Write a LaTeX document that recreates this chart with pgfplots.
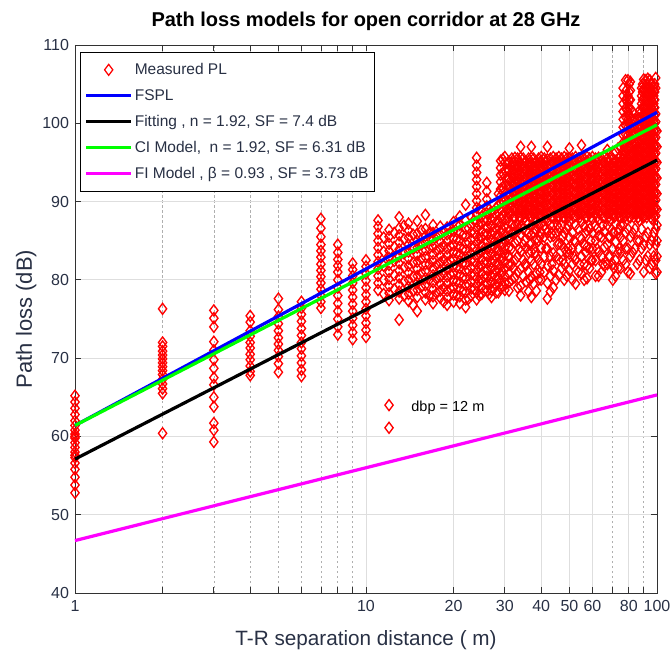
\documentclass[border=0pt]{standalone}
\usepackage{pgfplots}
\pgfplotsset{compat=1.18}
\usepackage{pgfplotstable}
\usepackage{fontspec}
\setmainfont{Liberation Sans}
\definecolor{txt}{RGB}{40,48,68}
\definecolor{axgray}{RGB}{50,50,50}
\definecolor{mred}{RGB}{255,0,0}
\definecolor{mblue}{RGB}{0,0,255}
\definecolor{mgreen}{RGB}{0,255,0}
\definecolor{mmag}{RGB}{255,0,255}

\pgfplotstableread{
x y1 y2 y3 y4 y5 y6 y7 y8 y9 y10
1 52.8 53.8 54.8 55.8 56.6 57.3 58.0 58.6 59.2 59.8
1 60.3 60.8 61.4 62.0 62.8 63.6 64.4 65.2 57.6 60.0
2 60.4 65.5 66.1 66.7 67.3 67.9 68.4 68.9 69.4 69.9
2 70.4 70.9 71.5 72.0 76.3 nan nan nan nan nan
3 59.3 60.8 61.7 63.8 65.0 66.6 67.5 68.7 69.8 71.0
3 72.1 74.0 75.1 76.1 nan nan nan nan nan nan
4 67.8 68.3 69.0 69.8 70.5 71.3 72.0 72.8 73.5 74.6
4 75.4 nan nan nan nan nan nan nan nan nan
5 68.2 69.3 70.2 71.0 71.8 72.6 73.5 74.4 75.3 76.2
5 77.6 nan nan nan nan nan nan nan nan nan
6 67.7 68.5 69.4 70.3 71.2 72.0 72.9 73.8 74.7 75.6
6 76.4 77.2 nan nan nan nan nan nan nan nan
7 76.4 77.2 78.0 78.8 79.6 80.4 81.2 82.0 82.9 83.7
7 84.5 85.5 86.6 87.8 nan nan nan nan nan nan
8 73.0 74.0 75.0 76.0 77.0 78.0 79.0 80.0 81.0 81.8
8 82.6 83.5 84.5 nan nan nan nan nan nan nan
9 72.4 73.3 74.2 75.1 76.0 76.9 77.8 78.7 79.6 80.5
9 81.3 82.1 nan nan nan nan nan nan nan nan
10 72.7 73.6 74.5 75.4 76.3 77.2 78.1 79.0 79.9 80.8
10 81.7 82.5 nan nan nan nan nan nan nan nan
11 78.7 79.6 80.5 81.4 82.3 83.2 84.1 85.0 85.9 86.8
11 87.6 nan nan nan nan nan nan nan nan nan
11.5 78.2 80.0 81.8 83.6 85.4 nan nan nan nan nan
12 77.4 78.3 79.2 80.1 81.0 81.9 82.8 83.7 84.6 85.5
12 86.4 61.1 64.0 nan nan nan nan nan nan nan
12.5 78.8 80.6 82.4 84.2 86.0 nan nan nan nan nan
13 74.9 77.6 78.5 79.4 80.3 81.2 82.1 83.0 83.9 84.8
13 85.7 86.6 88.0 nan nan nan nan nan nan nan
13.5 78.0 79.8 81.6 83.4 85.2 86.9 nan nan nan nan
14 77.3 78.2 79.1 80.0 80.9 81.8 82.7 83.6 84.5 85.4
14 86.3 87.2 nan nan nan nan nan nan nan nan
14.5 76.8 78.6 80.4 82.2 84.0 85.8 nan nan nan nan
15 76.0 77.8 78.7 79.6 80.5 81.4 82.3 83.2 84.1 85.0
15 85.9 87.5 nan nan nan nan nan nan nan nan
15.5 79.1 80.9 82.7 84.5 86.3 nan nan nan nan nan
16 77.5 78.4 79.3 80.2 81.1 82.0 82.9 83.8 84.7 85.6
16 86.5 88.3 nan nan nan nan nan nan nan nan
16.5 78.0 80.0 82.0 84.0 86.0 nan nan nan nan nan
17 77.0 77.9 78.8 79.7 80.6 81.5 82.4 83.3 84.2 85.1
17 86.0 87.0 nan nan nan nan nan nan nan nan
17.5 78.3 80.1 81.9 83.7 85.5 nan nan nan nan nan
18 77.7 78.6 79.5 80.4 81.3 82.2 83.1 84.0 84.9 85.8
18 86.8 nan nan nan nan nan nan nan nan nan
18.5 77.2 79.0 80.8 82.6 84.4 86.2 nan nan nan nan
19 76.8 77.7 78.6 79.5 80.4 81.3 82.2 83.1 84.0 84.9
19 85.8 86.7 nan nan nan nan nan nan nan nan
19.5 78.9 80.7 82.5 84.3 86.1 nan nan nan nan nan
20 77.2 78.1 79.0 79.9 80.8 81.7 82.6 83.5 84.4 85.3
20 86.2 87.4 nan nan nan nan nan nan nan nan
20.5 78.0 79.8 81.6 83.4 85.2 87.0 nan nan nan nan
21 77.0 77.9 78.8 79.7 80.6 81.5 82.4 83.3 84.2 85.1
21 86.0 87.0 88.1 nan nan nan nan nan nan nan
21.5 78.5 80.3 82.1 83.9 85.7 nan nan nan nan nan
22 76.5 77.5 78.4 79.3 80.2 81.1 82.0 82.9 83.8 84.7
22 85.6 86.5 87.6 89.6 nan nan nan nan nan nan
22.5 77.6 79.4 81.2 83.0 84.8 86.6 nan nan nan nan
23 78.0 78.9 79.8 80.7 81.6 82.5 83.4 84.3 85.2 86.1
23 87.0 88.0 nan nan nan nan nan nan nan nan
23.5 78.8 80.6 82.4 84.2 86.0 87.6 nan nan nan nan
24 77.5 78.4 79.3 80.2 81.1 82.0 82.9 83.8 84.7 85.6
24 86.5 87.4 88.3 89.2 90.1 91.0 91.9 92.8 93.7 94.6
24 95.6 nan nan nan nan nan nan nan nan nan
24.5 78.0 79.8 81.6 83.4 85.2 87.0 89.0 nan nan nan
25 78.2 79.1 80.0 80.9 81.8 82.7 83.6 84.5 85.4 86.3
25 87.2 88.1 nan nan nan nan nan nan nan nan
25.5 78.6 80.4 82.2 84.0 85.8 87.6 nan nan nan nan
26 78.6 79.5 80.4 81.3 82.2 83.1 84.0 84.9 85.8 86.7
26 87.6 88.5 89.4 90.3 91.3 92.4 nan nan nan nan
26.5 78.2 80.0 81.8 83.6 85.4 87.2 89.0 nan nan nan
27 77.8 78.7 79.6 80.5 81.4 82.3 83.2 84.1 85.0 85.9
27 86.8 87.7 88.6 nan nan nan nan nan nan nan
27.5 78.9 80.7 82.5 84.3 86.1 87.9 nan nan nan nan
28 78.4 79.3 80.2 81.1 82.0 82.9 83.8 84.7 85.6 86.5
28 87.4 88.3 89.2 nan nan nan nan nan nan nan
28.5 78.4 80.2 82.0 83.8 85.6 87.4 89.5 91.0 nan nan
29 79.0 79.9 80.8 81.7 82.6 83.5 84.4 85.3 86.2 87.1
29 88.0 88.9 89.8 90.7 91.6 92.5 93.4 94.3 95.2 nan
29.5 79.2 81.0 82.8 84.6 86.4 88.2 90.0 91.8 93.6 95.4
30 78.7 79.6 80.5 81.4 82.3 83.2 84.1 85.0 85.9 86.8
30 87.7 88.6 89.5 90.4 91.3 92.2 93.1 94.0 95.0 95.7
30.8 88.0 89.0 90.0 91.0 92.0 93.0 94.0 95.0 83.0 85.5
31 78.6 79.7 80.8 81.9 83.0 84.1 85.2 86.3 87.4 88.5
31 89.6 90.7 91.8 92.9 94.0 95.1 nan nan nan nan
31.7 88.5 89.5 90.5 91.5 92.5 93.5 94.5 95.5 80.0 82.0
31.7 84.0 86.0 87.0 nan nan nan nan nan nan nan
32.1 88.0 89.0 90.0 91.0 92.0 93.0 94.0 95.0 81.5 86.0
32.5 80.3 82.5 84.7 86.9 88.0 89.1 90.2 91.3 92.4 93.5
32.5 94.6 95.6 nan nan nan nan nan nan nan nan
33.2 88.5 89.5 90.5 91.5 92.5 93.5 94.5 95.5 79.0 81.0
33.2 83.0 85.0 87.0 nan nan nan nan nan nan nan
33.6 88.0 89.0 90.0 91.0 92.0 93.0 94.0 95.0 84.0 86.5
34 78.0 79.2 81.4 83.6 85.8 86.9 88.0 89.1 90.2 91.3
34 92.4 93.5 94.6 95.6 97.0 nan nan nan nan nan
34.7 88.5 89.5 90.5 91.5 92.5 93.5 94.5 95.5 80.5 82.5
34.7 84.5 86.5 nan nan nan nan nan nan nan nan
35.1 88.0 89.0 90.0 91.0 92.0 93.0 94.0 95.0 82.0 85.0
35.5 79.8 81.9 84.1 86.3 87.4 88.5 89.6 90.7 91.8 92.9
35.5 94.0 95.1 nan nan nan nan nan nan nan nan
36.2 88.5 89.5 90.5 91.5 92.5 93.5 94.5 95.5 78.5 81.0
36.2 83.5 86.0 87.2 nan nan nan nan nan nan nan
36.6 88.0 89.0 90.0 91.0 92.0 93.0 94.0 95.0 80.0 84.5
37 77.8 80.4 82.5 83.6 84.7 85.8 86.9 88.0 89.1 90.2
37 91.3 92.4 93.5 94.6 95.6 97.0 nan nan nan nan
37.7 88.5 89.5 90.5 91.5 92.5 93.5 94.5 95.5 79.5 82.0
37.7 84.0 86.0 nan nan nan nan nan nan nan nan
38.1 88.0 89.0 90.0 91.0 92.0 93.0 94.0 95.0 83.5 86.5
38.5 78.6 80.8 83.0 85.2 86.3 87.4 88.5 89.6 90.7 91.8
38.5 92.9 94.0 95.1 nan nan nan nan nan nan nan
39.2 88.5 89.5 90.5 91.5 92.5 93.5 94.5 95.5 80.0 82.5
39.2 85.0 87.0 nan nan nan nan nan nan nan nan
39.6 88.0 89.0 90.0 91.0 92.0 93.0 94.0 95.0 81.0 85.5
40 80.0 82.0 84.1 86.0 87.2 88.2 89.2 90.2 91.2 92.2
40 93.2 94.2 95.2 95.7 nan nan nan nan nan nan
41 88.5 89.5 90.5 91.5 92.5 93.5 94.5 95.5 81.0 83.0
41 85.5 87.0 nan nan nan nan nan nan nan nan
41.5 88.0 89.0 90.0 91.0 92.0 93.0 94.0 95.0 84.0 86.5
42 77.6 79.6 81.8 84.0 86.0 87.4 88.4 89.4 90.4 91.4
42 92.4 93.4 94.4 95.4 97.0 nan nan nan nan nan
43 88.5 89.5 90.5 91.5 92.5 93.5 94.5 95.5 78.5 80.5
43 83.0 85.5 87.0 nan nan nan nan nan nan nan
43.5 88.0 89.0 90.0 91.0 92.0 93.0 94.0 95.0 82.0 86.0
44 79.0 81.2 83.4 85.6 87.0 88.0 89.0 90.0 91.0 92.0
44 93.0 94.0 95.0 95.7 nan nan nan nan nan nan
45 88.5 89.5 90.5 91.5 92.5 93.5 94.5 95.5 80.0 83.0
45 86.0 nan nan nan nan nan nan nan nan nan
45.5 88.0 89.0 90.0 91.0 92.0 93.0 94.0 95.0 84.5 87.0
46 80.6 82.6 84.6 86.6 88.0 89.0 90.0 91.0 92.0 93.0
46 94.0 95.0 95.7 nan nan nan nan nan nan nan
47 88.5 89.5 90.5 91.5 92.5 93.5 94.5 95.5 81.5 84.5
47 87.0 nan nan nan nan nan nan nan nan nan
47.5 88.0 89.0 90.0 91.0 92.0 93.0 94.0 95.0 82.5 85.5
48 80.0 82.0 84.0 86.0 88.0 89.0 90.0 91.0 92.0 93.0
48 94.0 95.0 95.7 nan nan nan nan nan nan nan
49 88.5 89.5 90.5 91.5 92.5 93.5 94.5 95.5 80.5 83.5
49 86.5 nan nan nan nan nan nan nan nan nan
49.5 88.0 89.0 90.0 91.0 92.0 93.0 94.0 95.0 84.0 87.0
50 81.2 83.3 85.4 87.5 88.5 89.5 90.5 91.5 92.5 93.5
50 94.5 95.5 96.8 nan nan nan nan nan nan nan
51.2 88.5 89.5 90.5 91.5 92.5 93.5 94.5 95.5 80.0 82.0
51.2 84.0 86.0 nan nan nan nan nan nan nan nan
51.8 88.0 89.0 90.0 91.0 92.0 93.0 94.0 95.0 83.0 85.0
52.5 79.5 82.5 84.8 87.0 88.2 89.2 90.2 91.2 92.2 93.2
52.5 94.2 95.2 95.7 nan nan nan nan nan nan nan
53.7 88.5 89.5 90.5 91.5 92.5 93.5 94.5 95.5 81.0 84.0
53.7 86.5 nan nan nan nan nan nan nan nan nan
54.3 88.0 89.0 90.0 91.0 92.0 93.0 94.0 95.0 82.0 85.5
55 80.8 83.0 85.2 87.4 88.4 89.4 90.4 91.4 92.4 93.4
55 94.4 95.4 97.2 nan nan nan nan nan nan nan
56.2 88.5 89.5 90.5 91.5 92.5 93.5 94.5 95.5 80.0 82.0
56.2 84.5 86.8 nan nan nan nan nan nan nan nan
56.8 88.0 89.0 90.0 91.0 92.0 93.0 94.0 95.0 83.5 86.0
57.5 80.2 81.8 84.2 86.3 88.0 89.0 90.0 91.0 92.0 93.0
57.5 94.0 95.0 95.7 nan nan nan nan nan nan nan
58.7 88.5 89.5 90.5 91.5 92.5 93.5 94.5 95.5 81.5 84.0
58.7 86.5 nan nan nan nan nan nan nan nan nan
59.3 88.0 89.0 90.0 91.0 92.0 93.0 94.0 95.0 82.5 85.0
60 82.5 84.0 86.0 87.8 88.8 89.8 90.8 91.8 92.8 93.8
60 94.8 95.7 nan nan nan nan nan nan nan nan
61.5 88.5 89.5 90.5 91.5 92.5 93.5 94.5 95.5 80.5 82.5
61.5 85.0 87.0 nan nan nan nan nan nan nan nan
62.2 88.0 89.0 90.0 91.0 92.0 93.0 94.0 95.0 84.0 86.5
63 80.5 83.5 85.6 87.6 88.6 89.6 90.6 91.6 92.6 93.6
63 94.6 95.6 nan nan nan nan nan nan nan nan
64.5 88.5 89.5 90.5 91.5 92.5 93.5 94.5 95.5 81.0 83.0
64.5 85.5 nan nan nan nan nan nan nan nan nan
65.2 88.0 89.0 90.0 91.0 92.0 93.0 94.0 95.0 82.0 87.0
66 81.8 84.2 86.2 88.0 89.0 90.0 91.0 92.0 93.0 94.0
66 95.0 95.7 nan nan nan nan nan nan nan nan
67.5 88.5 89.5 90.5 91.5 92.5 93.5 94.5 95.5 82.0 84.5
67.5 87.0 96.6 nan nan nan nan nan nan nan nan
68.2 88.0 89.0 90.0 91.0 92.0 93.0 94.0 95.0 83.0 85.5
69 83.0 85.5 87.5 88.5 89.5 90.5 91.5 92.5 93.5 94.5
69 95.5 nan nan nan nan nan nan nan nan nan
70.5 88.5 89.5 90.5 91.5 92.5 93.5 94.5 95.5 80.0 82.0
70.5 84.0 86.0 nan nan nan nan nan nan nan nan
71.2 88.0 89.0 90.0 91.0 92.0 93.0 94.0 95.0 81.5 86.0
72 80.5 82.5 84.8 87.2 88.2 89.2 90.2 91.2 92.2 93.2
72 94.2 95.2 96.3 nan nan nan nan nan nan nan
73.5 88.5 89.5 90.5 91.5 92.5 93.5 94.5 95.5 81.5 83.5
73.5 86.0 96.8 nan nan nan nan nan nan nan nan
74.2 88.0 89.0 90.0 91.0 92.0 93.0 94.0 95.0 84.0 86.5
75 81.5 83.5 85.5 87.0 88.0 89.0 90.0 91.0 92.0 93.0
75 94.0 95.0 95.8 97.0 nan nan nan nan nan nan
76.5 88.5 89.5 90.5 91.5 92.5 93.5 94.5 95.5 82.5 85.0
76.5 87.0 96.5 97.5 98.5 99.5 100.5 101.5 102.5 103.5 104.5
77.2 88.0 89.0 90.0 91.0 92.0 93.0 94.0 95.0 96.0 97.0
78 82.0 84.0 86.0 88.2 89.2 90.2 91.2 92.2 93.2 94.2
78 95.2 96.2 97.5 98.6 99.7 100.8 101.9 103.0 104.1 105.5
79.5 88.5 89.5 90.5 91.5 92.5 93.5 94.5 95.5 81.0 84.0
79.5 86.5 96.5 97.5 98.5 99.5 100.5 101.5 102.5 103.5 105.5
80.2 88.0 89.0 90.0 91.0 92.0 93.0 94.0 95.0 96.0 97.0
80.2 98.0 99.0 100.0 101.0 102.0 103.0 104.0 105.0 nan nan
81 80.8 83.0 85.5 88.0 89.0 90.0 91.0 92.0 93.0 94.0
81 95.0 96.0 97.0 98.2 99.4 100.6 101.8 103.0 104.2 105.3
82.5 88.5 89.5 90.5 91.5 92.5 93.5 94.5 95.5 83.5 86.0
82.5 96.5 97.5 98.5 99.5 100.5 101.5 nan nan nan nan
83.2 88.0 89.0 90.0 91.0 92.0 93.0 94.0 95.0 96.0 97.0
84 84.0 86.5 88.5 89.5 90.5 91.5 92.5 93.5 94.5 95.5
84 96.5 97.5 98.5 99.5 100.5 nan nan nan nan nan
85.5 88.5 89.5 90.5 91.5 92.5 93.5 94.5 95.5 82.0 85.0
85.5 96.5 97.5 98.5 99.5 100.5 nan nan nan nan nan
86.2 88.0 89.0 90.0 91.0 92.0 93.0 94.0 95.0 96.0 97.0
87 82.5 85.0 87.6 88.6 89.6 90.6 91.6 92.6 93.6 94.6
87 95.6 96.6 97.6 98.6 99.6 100.6 101.6 nan nan nan
88.5 88.5 89.5 90.5 91.5 92.5 93.5 94.5 95.5 84.0 86.5
88.5 96.5 97.5 98.5 99.5 100.5 101.5 102.5 103.5 104.5 nan
89.2 88.0 89.0 90.0 91.0 92.0 93.0 94.0 95.0 96.0 97.0
89.2 98.0 99.0 100.0 101.0 102.0 103.0 104.0 105.0 nan nan
90 81.0 84.5 88.0 89.0 90.0 91.0 92.0 93.0 94.0 95.0
90 96.0 97.0 98.0 99.0 100.0 101.0 102.0 103.2 104.4 105.6
91.5 88.5 89.5 90.5 91.5 92.5 93.5 94.5 95.5 82.5 85.5
91.5 96.5 97.5 98.5 99.5 100.5 101.5 102.5 103.5 104.5 105.5
92.2 88.0 89.0 90.0 91.0 92.0 93.0 94.0 95.0 96.0 97.0
92.2 98.0 99.0 100.0 101.0 102.0 103.0 104.0 105.0 nan nan
93 83.0 86.0 88.5 89.5 90.5 91.5 92.5 93.5 94.5 95.5
93 96.5 97.5 98.5 99.5 100.5 101.5 102.5 103.5 104.5 105.7
94.5 88.5 89.5 90.5 91.5 92.5 93.5 94.5 95.5 81.5 84.5
94.5 96.5 97.5 98.5 99.5 100.5 101.5 102.5 103.5 104.5 105.5
95.2 88.0 89.0 90.0 91.0 92.0 93.0 94.0 95.0 96.0 97.0
95.2 98.0 99.0 100.0 101.0 102.0 103.0 104.0 105.0 nan nan
96 82.0 85.0 87.8 88.8 89.8 90.8 91.8 92.8 93.8 94.8
96 95.8 96.8 97.8 98.8 99.8 100.8 101.8 102.8 103.8 105.0
97.5 88.5 89.5 90.5 91.5 92.5 93.5 94.5 95.5 83.0 86.0
97.5 96.5 97.5 98.5 99.5 100.5 101.5 102.5 103.5 104.5 nan
98.2 88.0 89.0 90.0 91.0 92.0 93.0 94.0 95.0 96.0 97.0
98.2 98.0 99.0 100.0 101.0 102.0 103.0 104.0 105.0 nan nan
99 80.8 82.5 84.5 86.5 88.2 89.2 90.2 91.2 92.2 93.2
99 94.2 95.2 96.2 97.2 98.2 99.2 100.2 101.2 104.5 105.8
100 81.0 83.0 85.0 87.0 89.0 91.0 93.0 95.0 97.0 99.0
}\meas

\begin{document}
\begin{tikzpicture}
\useasboundingbox (-75pt,-66pt) rectangle (597pt,593pt);
\begin{axis}[
  at={(0pt,0pt)}, anchor=south west,
  scale only axis, width=582pt, height=548pt,
  clip=false, clip marker paths=true,
  xmode=log, log basis x=10,
  xmin=1, xmax=100, ymin=40, ymax=110,
  xtick={1,10,20,30,40,50,60,80,100},
  xticklabels={1,10,20,30,40,50,60,80,100},
  minor xtick={2,3,4,5,6,7,8,9,70,90},
  ytick={40,50,60,70,80,90,100,110},
  /pgf/number format/assume math mode=true,
  xmajorgrids, ymajorgrids, xminorgrids,
  major grid style={solid, draw={rgb,255:red,222;green,222;blue,222}, line width=0.8pt},
  minor grid style={draw={rgb,255:red,175;green,175;blue,175}, dash pattern=on 2.5pt off 2.5pt, line width=0.6pt},
  axis line style={draw=axgray, line width=0.9pt},
  tick style={draw=axgray, line width=0.8pt},
  major tick length=6pt, minor tick length=6pt,
  tick label style={font=\fontsize{16}{19}\selectfont, text=txt},
  xticklabel style={yshift=-4pt},
  yticklabel style={xshift=-2.5pt},
  title={Path loss models for open corridor at 28 GHz},
  title style={font=\fontsize{20}{24}\selectfont\bfseries, text=black, at={(axis description cs:0.5,1.033)}, anchor=center},
  xlabel={T-R separation distance ( m)},
  xlabel style={font=\fontsize{20.7}{24}\selectfont, text=txt, at={(axis description cs:0.5,-0.086)}, anchor=center},
  ylabel={Path loss (dB)},
  ylabel style={font=\fontsize{22}{26}\selectfont, text=txt, at={(axis description cs:-0.084,0.5)}, anchor=center, rotate=0},
  legend image code/.code={\draw[mark repeat=2,mark phase=2,#1] plot coordinates {(0pt,0pt) (22.5pt,0pt) (45pt,0pt)};},
  legend cell align=left,
  legend style={at={(axis description cs:0.009,0.987)}, anchor=north west, draw=black, line width=0.7pt, fill=white,
    font=\fontsize{15.5}{18}\selectfont, text=txt, row sep=9.3pt, inner xsep=4pt, inner ysep=9pt,
    /tikz/every even column/.append style={column sep=1pt}},
]
\pgfplotsinvokeforeach{1,...,10}{
  \addplot[forget plot, only marks, mark=diamond, mark size=5.5pt, draw=mred, mark options={solid, draw=mred, fill=none, line width=1.35pt}]
    table[x index=0, y index=#1] {\meas};
}
\addlegendimage{only marks, mark=diamond, mark size=5.5pt, draw=mred, mark options={solid, draw=mred, fill=none, line width=1.25pt}}
\addlegendentry{Measured PL}
\addplot[mblue, line width=3.2pt] coordinates {(1,61.4) (100,101.4)};
\addlegendentry{FSPL}
\addplot[black, line width=3.2pt] coordinates {(1,57.1) (100,95.3)};
\addlegendentry{Fitting , n = 1.92, SF = 7.4 dB}
\addplot[mgreen, line width=3.2pt] coordinates {(1,61.4) (100,99.8)};
\addlegendentry{CI Model,\ \ n = 1.92, SF = 6.31 dB}
\addplot[mmag, line width=3.2pt] coordinates {(1,46.7) (100,65.3)};
\addlegendentry{FI Model , β = 0.93 , SF = 3.73 dB}
\node[anchor=west, inner sep=0pt, font=\fontsize{14.5}{17}\selectfont, text=black] at (axis cs:14.3,63.6) {dbp = 12 m};
\end{axis}
\end{tikzpicture}
\end{document}
